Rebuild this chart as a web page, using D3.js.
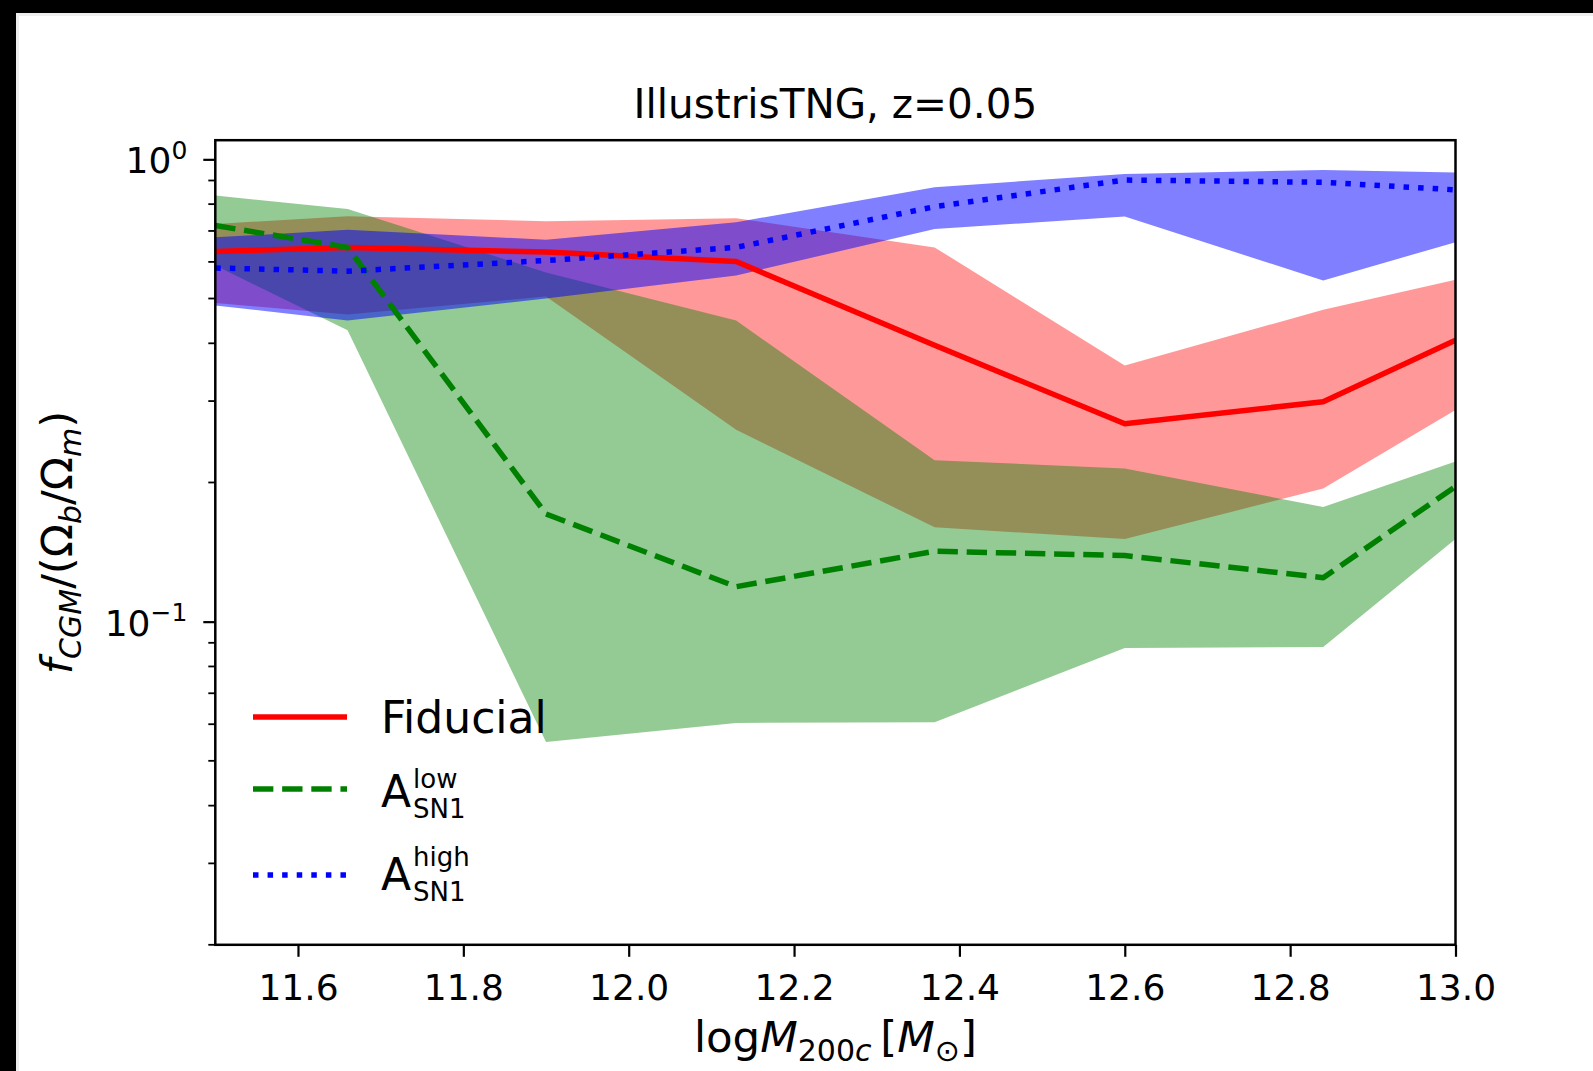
<!DOCTYPE html>
<html>
<head>
<meta charset="utf-8">
<script src="https://cdn.jsdelivr.net/npm/d3@7"></script>
<style>
    html, body { margin: 0; padding: 0; background: #000; }
    svg { display: block; }
    text { font-family: 'DejaVu Sans', sans-serif; fill: #000; }
</style>
</head>
<body>
<svg id="chart" width="1593" height="1071"></svg>
<script>
// halo mass bins (log M200c)
const massBins = [11.5, 11.66, 11.9, 12.13, 12.37, 12.6, 12.84, 13.0]

// Fiducial run: median and band edges of f_CGM/(Ob/Om)
const fiducialMid = [0.632, 0.645, 0.630, 0.601, 0.396, 0.268, 0.299, 0.406]
const fiducialHi = [0.725, 0.753, 0.735, 0.746, 0.645, 0.358, 0.473, 0.549]
const fiducialLo = [0.489, 0.462, 0.505, 0.260, 0.160, 0.151, 0.194, 0.287]

// A_SN1 low
const lowMid = [0.719, 0.645, 0.171, 0.119, 0.142, 0.139, 0.1245, 0.196]
const lowHi = [0.835, 0.781, 0.569, 0.448, 0.2235, 0.2145, 0.177, 0.222]
const lowLo = [0.589, 0.427, 0.0549, 0.0604, 0.0606, 0.0877, 0.0881, 0.151]

// A_SN1 high
const highMid = [0.582, 0.573, 0.604, 0.645, 0.790, 0.902, 0.892, 0.859]
const highHi = [0.678, 0.704, 0.670, 0.731, 0.870, 0.930, 0.948, 0.937]
const highLo = [0.483, 0.448, 0.500, 0.561, 0.707, 0.752, 0.547, 0.662]

const xTicks = [11.6, 11.8, 12.0, 12.2, 12.4, 12.6, 12.8, 13.0]
const yMajorTicks = [0.1, 1]
const yTickBase = ['10', '10']
const yTickExp = ['\u22121', '0']

const legendMain = ['Fiducial', 'A', 'A']
const legendSup = [null, 'low', 'high']
const legendSub = [null, 'SN1', 'SN1']

const TITLE = 'IllustrisTNG, z=0.05'

const LW = 5.5
const series = [
    { mid: fiducialMid, lo: fiducialLo, hi: fiducialHi, color: '#ff0000', alpha: 0.4, dash: null },
    { mid: lowMid, lo: lowLo, hi: lowHi, color: '#008000', alpha: 0.42, dash: [3.7 * LW, 1.6 * LW].join(',') },
    { mid: highMid, lo: highLo, hi: highHi, color: '#0000ff', alpha: 0.5, dash: [1 * LW, 1.65 * LW].join(',') }
]

const svg = d3.select('#chart')

// page frame (black border with light edge)
svg.append('rect').attr('width', 1593).attr('height', 1071).attr('fill', '#000')
svg.append('rect').attr('x', 16).attr('y', 13).attr('width', 1593).attr('height', 1071).attr('fill', '#eeeeee')
svg.append('rect').attr('x', 19).attr('y', 16).attr('width', 1593).attr('height', 1071).attr('fill', '#fff')

const AX_L = 215.3, AX_R = 1455.5, AX_T = 140.2, AX_B = 944.8

const x = d3.scaleLinear().domain([11.5, 13.0]).range([AX_L, AX_R])
const y = d3.scaleLog().domain([0.02, 1.1]).range([AX_B, AX_T])

svg.append('clipPath').attr('id', 'clip')
    .append('rect')
    .attr('x', AX_L).attr('y', AX_T)
    .attr('width', AX_R - AX_L).attr('height', AX_B - AX_T)

const plot = svg.append('g').attr('clip-path', 'url(#clip)')

const area = d3.area()
    .x((d) => x(d.m))
    .y0((d) => y(d.lo))
    .y1((d) => y(d.hi))

const line = d3.line()
    .x((d) => x(d.m))
    .y((d) => y(d.v))

series.forEach((s) => {
    const rows = massBins.map((m, i) => ({ m: m, lo: s.lo[i], hi: s.hi[i] }))
    plot.append('path')
        .datum(rows)
        .attr('d', area)
        .attr('fill', s.color)
        .attr('fill-opacity', s.alpha)
})

series.forEach((s) => {
    const rows = massBins.map((m, i) => ({ m: m, v: s.mid[i] }))
    plot.append('path')
        .datum(rows)
        .attr('d', line)
        .attr('fill', 'none')
        .attr('stroke', s.color)
        .attr('stroke-width', LW)
        .attr('stroke-linejoin', 'round')
        .attr('stroke-dasharray', s.dash)
})

// x axis
const xAxis = svg.append('g')
    .attr('transform', 'translate(0,' + AX_B + ')')
    .call(d3.axisBottom(x).tickValues(xTicks).tickFormat(d3.format('.1f')).tickSize(12).tickSizeOuter(0))
xAxis.select('.domain').remove()
xAxis.selectAll('line').attr('stroke', '#000').attr('stroke-width', 2.2)
xAxis.selectAll('text')
    .attr('y', 55)
    .attr('dy', null)
    .attr('fill', '#000')
    .style('font-size', '36px')

// y axis, major ticks
const yAxis = svg.append('g')
    .attr('transform', 'translate(' + AX_L + ',0)')
    .call(d3.axisLeft(y).tickValues(yMajorTicks).tickSize(12).tickSizeOuter(0))
yAxis.select('.domain').remove()
yAxis.selectAll('line').attr('stroke', '#000').attr('stroke-width', 2.2)
yAxis.selectAll('text')
    .text(null)
    .attr('x', -28)
    .attr('dy', null)
    .attr('y', 13.5)
    .attr('fill', '#000')
    .style('font-size', '36px')
    .each(function (d, i) {
        const t = d3.select(this)
        t.append('tspan').text(yTickBase[i])
        t.append('tspan').attr('dy', -14.5).style('font-size', '25px').text(yTickExp[i])
    })

// y axis, minor ticks
const yMinor = y.ticks().filter((v) => !yMajorTicks.some((m) => Math.abs(m - v) < 1e-9))
svg.append('g')
    .selectAll('line')
    .data(yMinor)
    .enter().append('line')
    .attr('x1', AX_L - 7)
    .attr('x2', AX_L)
    .attr('y1', (d) => y(d))
    .attr('y2', (d) => y(d))
    .attr('stroke', '#000')
    .attr('stroke-width', 1.8)

// frame
svg.append('rect')
    .attr('x', AX_L).attr('y', AX_T)
    .attr('width', AX_R - AX_L).attr('height', AX_B - AX_T)
    .attr('fill', 'none')
    .attr('stroke', '#000')
    .attr('stroke-width', 2.5)

// title
svg.append('text')
    .attr('x', (AX_L + AX_R) / 2)
    .attr('y', 117.5)
    .attr('text-anchor', 'middle')
    .style('font-size', '40.5px')
    .text(TITLE)

// x label: log M_200c [M_sun]
const xl = svg.append('text')
    .attr('x', (AX_L + AX_R) / 2)
    .attr('y', 1052)
    .attr('text-anchor', 'middle')
    .style('font-size', '43.5px')
xl.append('tspan').text('log')
xl.append('tspan').style('font-style', 'italic').text('M')
xl.append('tspan').attr('dy', 9).style('font-size', '30px').text('200')
xl.append('tspan').style('font-size', '30px').style('font-style', 'italic').text('c')
xl.append('tspan').attr('dy', -9).text('\u2009[')
xl.append('tspan').style('font-style', 'italic').text('M')
xl.append('tspan').attr('dy', 9).style('font-size', '30px').text('\u2299')
xl.append('tspan').attr('dy', -9).text(']')

// y label: f_CGM/(Omega_b/Omega_m)
const yl = svg.append('text')
    .attr('transform', 'translate(72,' + ((AX_T + AX_B) / 2) + ') rotate(-90)')
    .attr('text-anchor', 'middle')
    .style('font-size', '43.5px')
yl.append('tspan').style('font-style', 'italic').text('f')
yl.append('tspan').attr('dy', 9).style('font-size', '30px').style('font-style', 'italic').text('CGM')
yl.append('tspan').attr('dy', -9).text('/(\u03a9')
yl.append('tspan').attr('dy', 9).style('font-size', '30px').style('font-style', 'italic').text('b')
yl.append('tspan').attr('dy', -9).text('/\u03a9')
yl.append('tspan').attr('dy', 9).style('font-size', '30px').style('font-style', 'italic').text('m')
yl.append('tspan').attr('dy', -9).text(')')

// legend
const LEGEND_LINE_X0 = 253
const LEGEND_LINE_X1 = 347
const LEGEND_TEXT_X = 381
const LEGEND_SCRIPT_X = 413
const legendLineY = [717, 789, 875]
const legendBaseY = [733, 806.5, 890]
const legendSupY = [null, 787.5, 866]
const legendSubY = [null, 818, 901]

const legend = svg.append('g')
series.forEach((s, i) => {
    legend.append('line')
        .attr('x1', LEGEND_LINE_X0).attr('x2', LEGEND_LINE_X1)
        .attr('y1', legendLineY[i]).attr('y2', legendLineY[i])
        .attr('stroke', s.color)
        .attr('stroke-width', LW)
        .attr('stroke-dasharray', s.dash)
    legend.append('text')
        .attr('x', LEGEND_TEXT_X).attr('y', legendBaseY[i])
        .style('font-size', '44px')
        .text(legendMain[i])
    if (legendSup[i]) {
        legend.append('text')
            .attr('x', LEGEND_SCRIPT_X).attr('y', legendSupY[i])
            .style('font-size', '26px')
            .text(legendSup[i])
    }
    if (legendSub[i]) {
        legend.append('text')
            .attr('x', LEGEND_SCRIPT_X).attr('y', legendSubY[i])
            .style('font-size', '26px')
            .text(legendSub[i])
    }
})
</script>
</body>
</html>
